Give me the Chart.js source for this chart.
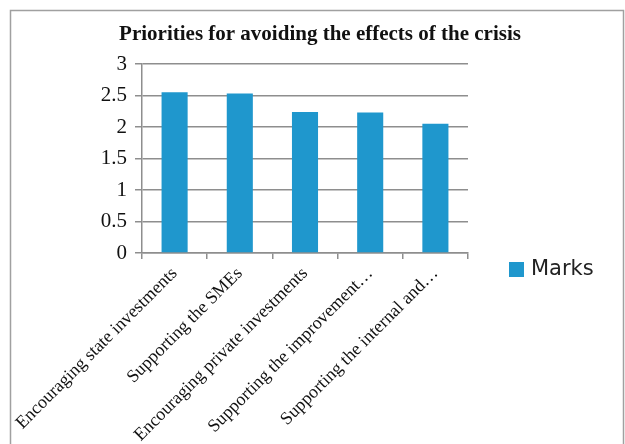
<!DOCTYPE html>
<html>
<head>
<meta charset="utf-8">
<script src="https://cdn.jsdelivr.net/npm/chart.js@4/dist/chart.umd.min.js"></script>
<style>
  html, body { margin: 0; padding: 0; background: #fff; }
  #wrap { width: 625px; height: 444px; }
</style>
</head>
<body>
<div id="wrap"><canvas id="chart" width="625" height="444"></canvas></div>
<script>
// Dados do gráfico
const titulo = "Priorities for avoiding the effects of the crisis";
const categorias = [
    "Encouraging state investments",
    "Supporting the SMEs",
    "Encouraging private investments",
    "Supporting the improvement\u2026",
    "Supporting the internal and\u2026"
];
const serieNome = "Marks";
const notas = [2.55, 2.53, 2.24, 2.23, 2.05];
const yTicks = [0, 0.5, 1, 1.5, 2, 2.5, 3];

const corBarra = "#1f97cd";
const corGrade = "#8e8e8e";

// Moldura, título e legenda desenhados à mão (como no Excel)
const moldura = {
    id: "moldura",
    beforeDraw(chart) {
        const ctx = chart.ctx;
        ctx.save();
        ctx.fillStyle = "#fff";
        ctx.fillRect(0, 0, chart.width, chart.height);
        ctx.strokeStyle = "#a0a0a0";
        ctx.lineWidth = 1.5;
        ctx.strokeRect(10.5, 10.5, 613, 460);
        ctx.restore();
    },
    afterDraw(chart) {
        const ctx = chart.ctx;
        ctx.save();
        // título
        ctx.fillStyle = "#111";
        ctx.font = "bold 21px 'Liberation Serif'";
        ctx.textAlign = "center";
        ctx.textBaseline = "middle";
        ctx.fillText(titulo, 320, 35);
        // legenda
        const ds = chart.data.datasets[0];
        ctx.fillStyle = ds.backgroundColor;
        ctx.fillRect(509, 262, 15, 15);
        ctx.fillStyle = "#222";
        ctx.font = "21px 'DejaVu Sans'";
        ctx.textAlign = "left";
        ctx.fillText(ds.label, 531, 270);
        ctx.restore();
    }
};

const ctx = document.getElementById("chart").getContext("2d");
const grafico = new Chart(ctx, {
    type: "bar",
    data: {
        labels: categorias,
        datasets: [{
            label: serieNome,
            data: notas,
            backgroundColor: corBarra,
            barPercentage: 0.4,
            categoryPercentage: 1
        }]
    },
    options: {
        responsive: false,
        animation: false,
        layout: {
            padding: { top: 64, right: 157, left: 0, bottom: 0 }
        },
        scales: {
            x: {
                offset: true,
                grid: {
                    offset: true,
                    drawOnChartArea: false,
                    drawTicks: true,
                    tickLength: 6,
                    color: corGrade,
                    lineWidth: 1.5
                },
                border: { color: corGrade, width: 1.5 },
                ticks: {
                    autoSkip: false,
                    maxRotation: 45,
                    minRotation: 45,
                    padding: 4,
                    color: "#111",
                    font: { family: "'Liberation Serif'", size: 18 }
                },
                afterFit(scale) { scale.height = 444 - 253; }
            },
            y: {
                min: 0,
                max: 3,
                afterBuildTicks(scale) {
                    scale.ticks = yTicks.map(v => ({ value: v }));
                },
                grid: {
                    color: corGrade,
                    lineWidth: 1.5,
                    tickLength: 7
                },
                border: { color: corGrade, width: 1.5 },
                ticks: {
                    padding: 8,
                    color: "#111",
                    font: { family: "'Liberation Serif'", size: 21 },
                    callback: (v) => String(v)
                },
                afterFit(scale) { scale.width = 142; }
            }
        },
        plugins: {
            legend: { display: false },
            title: { display: false },
            tooltip: { enabled: false }
        }
    },
    plugins: [moldura]
});
</script>
</body>
</html>
